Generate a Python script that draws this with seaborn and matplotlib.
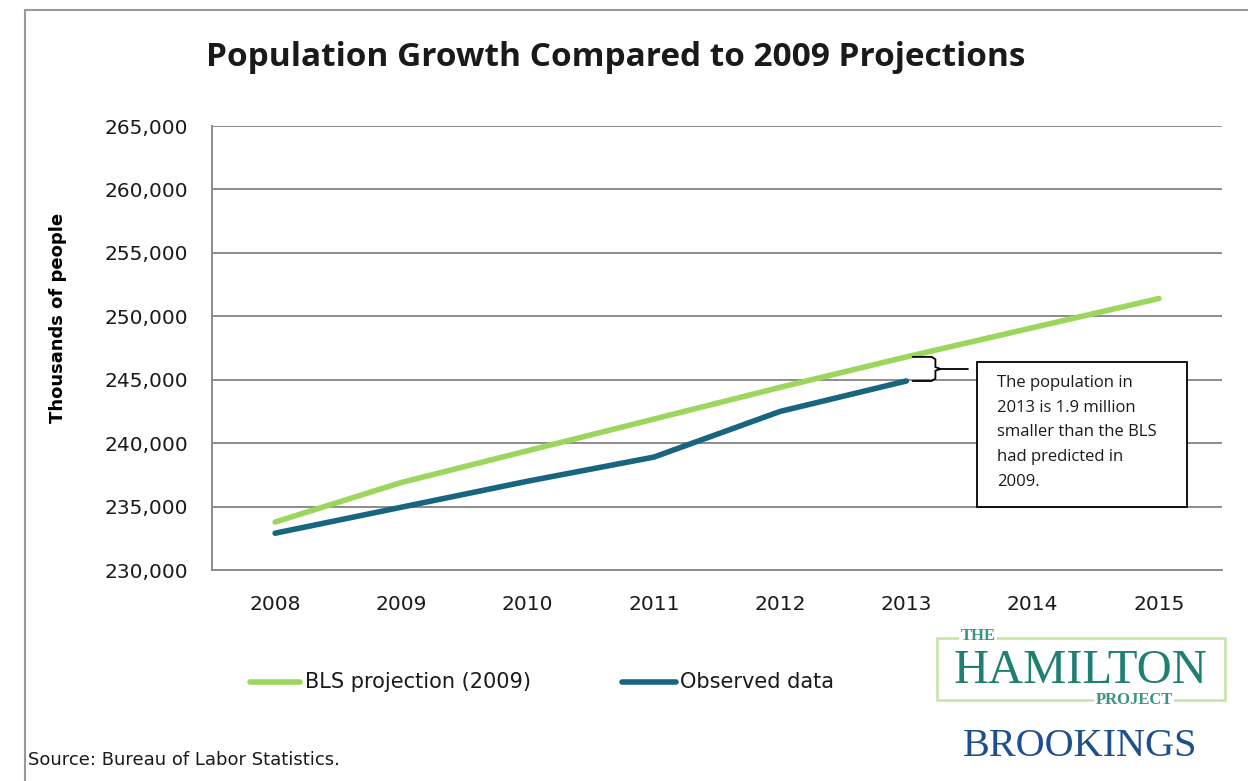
import numpy as np
import pandas as pd
import matplotlib
matplotlib.use("Agg")
import matplotlib.pyplot as plt
import seaborn as sns
from matplotlib.patches import Rectangle
from matplotlib.ticker import FuncFormatter, MultipleLocator

# Values (thousands of people)
YEARS_PROJ = [2008, 2009, 2010, 2011, 2012, 2013, 2014, 2015]
BLS_PROJECTION = [233780, 236900, 239400, 241900, 244400, 246800, 249100, 251400]
YEARS_OBS = [2008, 2009, 2010, 2011, 2012, 2013]
OBSERVED = [232900, 234950, 237000, 238900, 242500, 244900]
SERIES_NAMES = ["BLS projection (2009)", "Observed data"]

GREEN = "#9CD65C"
TEAL = "#17657E"
GRID = "#8C8C8C"
TXT = "#1A1A1A"

df = pd.concat([
    pd.DataFrame({"year": YEARS_PROJ, "value": BLS_PROJECTION, "series": SERIES_NAMES[0]}),
    pd.DataFrame({"year": YEARS_OBS, "value": OBSERVED, "series": SERIES_NAMES[1]}),
])

sns.set_style("white")
plt.rcParams["font.family"] = ["DejaVu Sans"]


def fx(px):
    return px / 1248


def fy(py):
    return 1 - py / 781


fig = plt.figure(figsize=(12.48, 7.81), dpi=100)
ax = fig.add_axes([fx(212), fy(570), fx(1010), 444 / 781])

sns.lineplot(data=df, x="year", y="value", hue="series",
             palette={SERIES_NAMES[0]: GREEN, SERIES_NAMES[1]: TEAL},
             linewidth=4, ax=ax, legend=False)

ax.set_xlim(2007.5, 2015.5)
ax.set_ylim(230000, 265000)
ax.yaxis.set_major_locator(MultipleLocator(5000))
ax.yaxis.set_major_formatter(FuncFormatter(lambda v, p: f"{int(v):,}"))
ax.set_xticks(YEARS_PROJ)
ax.set_xticks(np.arange(2007.5, 2016, 1.0), minor=True)
ax.tick_params(axis="x", which="major", length=0, labelsize=14.5, pad=18, labelcolor=TXT)
ax.tick_params(axis="x", which="minor", length=5, width=1.2, color=GRID, direction="out")
ax.tick_params(axis="y", which="major", length=5, width=1.2, color=GRID, labelsize=14.5,
               pad=12, labelcolor=TXT)
ax.grid(axis="y", color=GRID, linewidth=1.4)
ax.set_axisbelow(True)
for s in ["top", "right"]:
    ax.spines[s].set_visible(False)
for s in ["left", "bottom"]:
    ax.spines[s].set_color(GRID)
    ax.spines[s].set_linewidth(1.4)
ax.set_xlabel("")
ax.set_ylabel("")
fig.text(fx(58), fy(318), "Thousands of people", fontsize=13, fontweight="bold",
         rotation=90, ha="center", va="center", color="black")

# brace between the two 2013 values
y_top = BLS_PROJECTION[YEARS_PROJ.index(2013)]
y_bot = OBSERVED[YEARS_OBS.index(2013)]
y_mid = (y_top + y_bot) / 2
x0, x1, x2, x3 = 2013.05, 2013.2, 2013.27, 2013.49
dy = (y_top - y_bot) * 0.25
bx = [x0, x1, x1 + 0.03, x1 + 0.03, x2, x1 + 0.03, x1 + 0.03, x1, x0]
by = [y_top, y_top, y_top - dy * 0.4, y_mid + dy * 0.3, y_mid,
      y_mid - dy * 0.3, y_bot + dy * 0.4, y_bot, y_bot]
ax.plot(bx, by, color="black", linewidth=1.3, solid_joinstyle="round")
ax.plot([x2, x3], [y_mid, y_mid], color="black", linewidth=1.3)

# annotation box
fig.add_artist(Rectangle((fx(977), fy(507)), fx(210), 145 / 781,
                         transform=fig.transFigure, facecolor="white",
                         edgecolor="black", linewidth=1.3, zorder=5))
fig.text(fx(997), fy(375),
         "The population in\n2013 is 1.9 million\nsmaller than the BLS\nhad predicted in\n2009.",
         fontsize=12, family="Open Sans", va="top", ha="left", linespacing=1.72,
         color=TXT, zorder=6)

# title
fig.text(fx(616), fy(58), "Population Growth Compared to 2009 Projections",
         fontsize=24, fontweight="bold", family="Open Sans", ha="center", va="center",
         color=TXT)

# legend
fig.add_artist(plt.Line2D([fx(250), fx(300)], [fy(682)] * 2,
                          transform=fig.transFigure, color=GREEN, linewidth=4))
fig.text(fx(305), fy(682), SERIES_NAMES[0], fontsize=15, va="center", color=TXT)
fig.add_artist(plt.Line2D([fx(622), fx(676)], [fy(682)] * 2,
                          transform=fig.transFigure, color=TEAL, linewidth=4))
fig.text(fx(680), fy(682), SERIES_NAMES[1], fontsize=15, va="center", color=TXT)

# source
fig.text(fx(28), fy(760), "Source: Bureau of Labor Statistics.", fontsize=13,
         va="center", color=TXT)

# logo
fig.add_artist(Rectangle((fx(937), fy(700)), fx(288), 62 / 781,
                         transform=fig.transFigure, fill=False, edgecolor="#C4E3A6",
                         linewidth=1.8))
fig.text(fx(978), fy(636), "THE", fontsize=12, fontweight="bold", family="Liberation Serif",
         ha="center", va="center", color="#3A9484",
         bbox=dict(facecolor="white", edgecolor="none", pad=1.0))
fig.text(fx(1081), fy(671), "HAMILTON", fontsize=35, family="Liberation Serif",
         ha="center", va="center", color="#1F7F70")
fig.text(fx(1134), fy(700), "PROJECT", fontsize=12, fontweight="bold", family="Liberation Serif",
         ha="center", va="center", color="#3A9484",
         bbox=dict(facecolor="white", edgecolor="none", pad=1.0))
fig.text(fx(1080), fy(746), "BROOKINGS", fontsize=29, family="Liberation Serif",
         ha="center", va="center", color="#1D4F8C")

# outer frame
fig.add_artist(Rectangle((fx(25), -0.1), 1.2, fy(10) + 0.1,
                         transform=fig.transFigure, fill=False, edgecolor="#999999",
                         linewidth=1.5))

fig.savefig("out.png", dpi=100)
